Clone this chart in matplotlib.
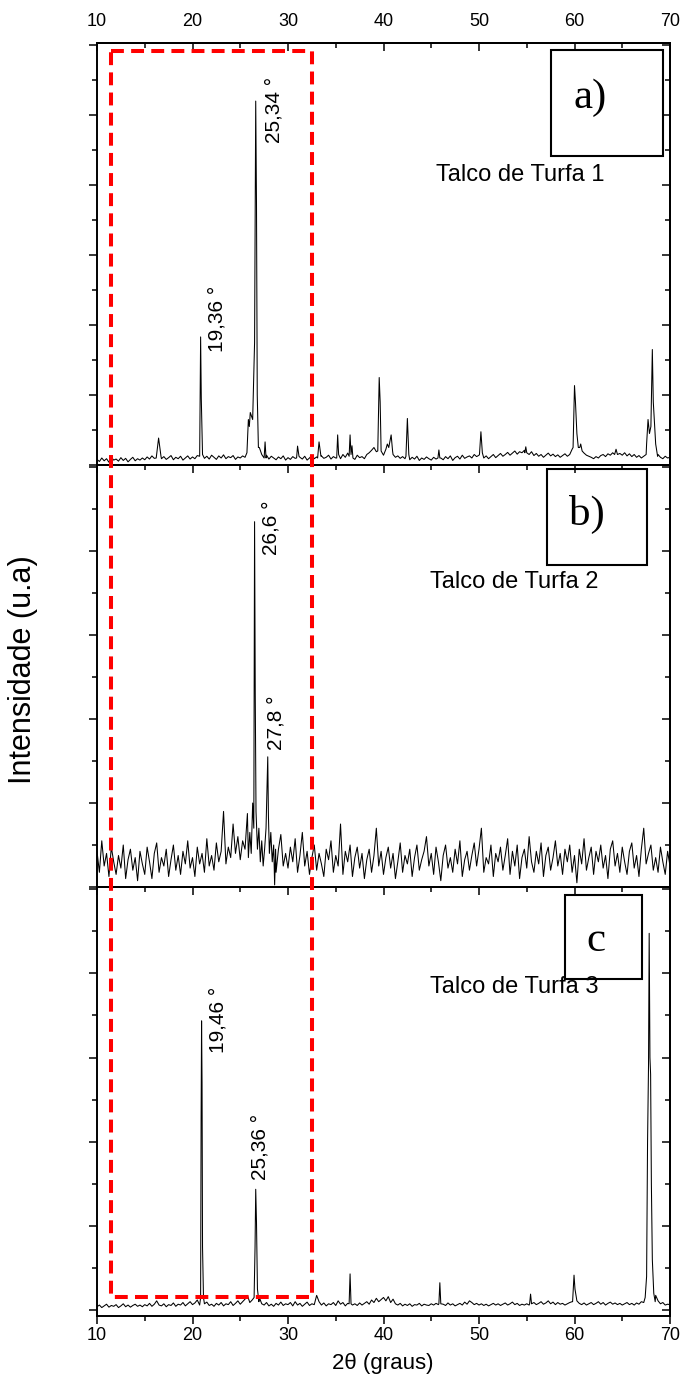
import numpy as np
import matplotlib.pyplot as plt
from matplotlib.lines import Line2D
from matplotlib.patches import Rectangle

plt.rcParams['font.family'] = ['Liberation Sans', 'DejaVu Sans']

# grade de 2theta (passo 0,25 grau) usada para as linhas de base
grade = np.arange(10, 70.001, 0.25)

base_a = [
    0.16, 0.10, 0.20, 0.12, 0.18, 0.08, 0.22, 0.14, 0.17, 0.11, 0.21, 0.13, 0.19, 0.09, 0.16, 0.22, 0.12, 0.18, 0.14, 0.20,
    0.15, 0.23, 0.17, 0.26, 0.19, 0.28, 0.22, 0.18, 0.24, 0.16, 0.21, 0.27, 0.15, 0.22, 0.18, 0.25, 0.14, 0.20, 0.26, 0.17,
    0.23, 0.18, 0.27, 0.21, 0.30, 0.19, 0.25, 0.17, 0.28, 0.22, 0.16, 0.26, 0.20, 0.29, 0.18, 0.24, 0.21, 0.27, 0.16, 0.23,
    0.20, 0.26, 0.22, 0.30, 0.28, 0.35, 0.40, 0.45, 0.50, 0.30, 0.24, 0.28, 0.17, 0.25, 0.20, 0.15, 0.23, 0.18, 0.26, 0.14,
    0.21, 0.16, 0.24, 0.19, 0.30, 0.22, 0.17, 0.25, 0.14, 0.20, 0.28, 0.18, 0.23, 0.15, 0.26, 0.19, 0.22, 0.28, 0.17, 0.24,
    0.20, 0.26, 0.18, 0.30, 0.22, 0.34, 0.19, 0.25, 0.16, 0.28, 0.21, 0.24, 0.18, 0.30, 0.35, 0.42, 0.50, 0.38, 0.26, 0.22,
    0.28, 0.45, 0.52, 0.40, 0.30, 0.22, 0.26, 0.19, 0.24, 0.18, 0.21, 0.15, 0.22, 0.17, 0.25, 0.13, 0.20, 0.16, 0.23, 0.18,
    0.14, 0.22, 0.17, 0.28, 0.20, 0.15, 0.24, 0.18, 0.26, 0.13, 0.21, 0.25, 0.17, 0.28, 0.19, 0.23, 0.26, 0.20, 0.30, 0.24,
    0.28, 0.22, 0.20, 0.26, 0.18, 0.24, 0.30, 0.21, 0.27, 0.33, 0.25, 0.30, 0.36, 0.28, 0.34, 0.40, 0.31, 0.38, 0.35, 0.42,
    0.36, 0.30, 0.38, 0.27, 0.33, 0.25, 0.30, 0.22, 0.28, 0.34, 0.26, 0.31, 0.24, 0.29, 0.22, 0.27, 0.32, 0.25, 0.30, 0.45,
    0.60, 0.55, 0.50, 0.42, 0.34, 0.28, 0.25, 0.22, 0.18, 0.24, 0.20, 0.27, 0.30, 0.24, 0.32, 0.28, 0.35, 0.30, 0.40, 0.33,
    0.28, 0.35, 0.26, 0.32, 0.24, 0.30, 0.22, 0.27, 0.20, 0.25, 0.30, 0.45, 0.80, 0.60, 0.50, 0.30, 0.22, 0.18, 0.25, 0.20,
    0.22]

base_b = [
    0.85, 0.35, 1.10, 0.50, 0.80, 0.25, 0.95, 0.60, 0.30, 0.75, 0.45, 1.00, 0.20, 0.65, 0.90, 0.40, 0.70, 0.15, 0.85, 0.55,
    0.30, 0.95, 0.60, 0.20, 0.80, 1.05, 0.35, 0.70, 0.50, 0.90, 0.25, 0.65, 1.00, 0.40, 0.75, 0.30, 0.85, 0.55, 1.10, 0.45,
    0.70, 0.25, 0.95, 0.55, 0.80, 0.35, 1.15, 0.50, 0.75, 0.40, 1.05, 0.60, 0.85, 1.80, 0.55, 0.95, 0.70, 1.50, 0.80, 1.20,
    0.65, 1.10, 0.90, 1.75, 0.60, 1.00, 0.80, 0.50, 0.90, 0.70, 1.20, 0.40, 0.85, 0.55, 1.05, 0.35, 0.90, 1.25, 0.50, 0.80,
    0.45, 0.95, 0.60, 1.15, 0.35, 0.75, 1.30, 0.50, 0.85, 0.30, 0.70, 1.00, 0.40, 0.80, 0.55, 0.25, 0.90, 0.65, 1.10, 0.35,
    0.75, 0.50, 1.50, 0.30, 0.85, 0.60, 1.00, 0.25, 0.70, 0.95, 0.45, 0.80, 0.20, 0.65, 0.90, 0.35, 0.75, 1.40, 0.50, 0.85,
    0.30, 0.70, 0.95, 0.45, 0.80, 0.20, 0.60, 1.05, 0.35, 0.75, 0.55, 0.90, 0.25, 0.70, 1.00, 0.40, 0.65, 0.85, 1.20, 0.50,
    0.80, 0.30, 0.95, 0.60, 0.15, 0.75, 1.00, 0.45, 0.70, 0.35, 0.90, 0.55, 1.10, 0.25, 0.65, 0.85, 0.40, 0.75, 1.05, 0.50,
    0.90, 1.40, 0.35, 0.70, 0.55, 1.00, 0.25, 0.80, 0.60, 0.95, 0.40, 0.75, 1.15, 0.30, 0.85, 0.50, 1.00, 0.20, 0.70, 0.90,
    0.45, 1.20, 0.60, 0.35, 0.85, 0.55, 1.05, 0.25, 0.75, 0.95, 0.40, 0.70, 1.10, 0.50, 0.80, 0.30, 0.90, 0.60, 1.00, 0.35,
    0.75, 0.10, 0.90, 0.55, 1.15, 0.40, 0.70, 0.95, 0.30, 0.85, 0.60, 1.00, 0.45, 0.75, 0.20, 0.90, 1.10, 0.50, 0.80, 0.35,
    0.95, 0.60, 0.30, 0.85, 1.05, 0.45, 0.75, 0.25, 0.90, 1.40, 0.55, 0.80, 1.00, 0.40, 0.70, 0.35, 0.95, 0.60, 0.30, 0.85,
    0.50]

base_c = [
    0.08, 0.12, 0.06, 0.10, 0.14, 0.07, 0.11, 0.09, 0.13, 0.06, 0.10, 0.15, 0.08, 0.12, 0.07, 0.11, 0.14, 0.09, 0.12, 0.08,
    0.13, 0.10, 0.16, 0.09, 0.14, 0.22, 0.12, 0.10, 0.15, 0.08, 0.13, 0.11, 0.17, 0.09, 0.14, 0.12, 0.18, 0.10, 0.15, 0.20,
    0.13, 0.17, 0.24, 0.12, 0.10, 0.15, 0.19, 0.11, 0.14, 0.09, 0.16, 0.12, 0.18, 0.10, 0.15, 0.13, 0.20, 0.11, 0.16, 0.22,
    0.14, 0.20, 0.26, 0.35, 0.18, 0.24, 0.45, 0.40, 0.30, 0.15, 0.12, 0.18, 0.10, 0.14, 0.09, 0.16, 0.12, 0.19, 0.11, 0.15,
    0.13, 0.18, 0.10, 0.20, 0.12, 0.16, 0.09, 0.14, 0.19, 0.11, 0.15, 0.13, 0.35, 0.20, 0.12, 0.17, 0.10, 0.15, 0.13, 0.18,
    0.11, 0.22, 0.14, 0.18, 0.10, 0.16, 0.13, 0.12, 0.15, 0.11, 0.17, 0.12, 0.16, 0.20, 0.14, 0.24, 0.18, 0.28, 0.20, 0.25,
    0.30, 0.22, 0.32, 0.18, 0.26, 0.15, 0.12, 0.16, 0.10, 0.14, 0.11, 0.15, 0.09, 0.13, 0.12, 0.16, 0.10, 0.14, 0.12, 0.11,
    0.15, 0.12, 0.16, 0.13, 0.10, 0.14, 0.11, 0.17, 0.12, 0.15, 0.10, 0.13, 0.16, 0.12, 0.19, 0.14, 0.22, 0.18, 0.13, 0.16,
    0.12, 0.15, 0.11, 0.14, 0.10, 0.13, 0.16, 0.12, 0.15, 0.11, 0.14, 0.17, 0.12, 0.15, 0.19, 0.13, 0.16, 0.11, 0.14, 0.12,
    0.15, 0.12, 0.14, 0.18, 0.13, 0.16, 0.20, 0.14, 0.17, 0.22, 0.15, 0.19, 0.13, 0.18, 0.14, 0.16, 0.12, 0.15, 0.18, 0.20,
    0.30, 0.22, 0.16, 0.13, 0.17, 0.12, 0.15, 0.18, 0.13, 0.16, 0.20, 0.14, 0.18, 0.12, 0.16, 0.19, 0.14, 0.17, 0.13, 0.16,
    0.12, 0.15, 0.18, 0.13, 0.16, 0.12, 0.17, 0.14, 0.20, 0.18, 0.25, 0.40, 0.60, 0.45, 0.35, 0.22, 0.15, 0.18, 0.12, 0.14,
    0.13]

# picos (2theta, intensidade) de cada amostra
picos_a = [
    [(16.2, 0.20), (16.45, 0.77), (16.7, 0.25)],
    [(20.75, 0.25), (20.85, 3.66), (20.92, 1.90), (21.05, 0.30)],
    [(25.7, 0.35), (25.85, 1.30), (25.95, 1.10), (26.05, 1.50), (26.3, 1.30), (26.5, 3.50),
     (26.62, 10.4), (26.7, 7.50), (26.78, 2.00), (26.9, 0.50)],
    [(27.5, 0.20), (27.6, 0.66), (27.7, 0.20)],
    [(30.9, 0.20), (31.0, 0.54), (31.15, 0.25)],
    [(33.1, 0.20), (33.25, 0.66), (33.45, 0.25)],
    [(35.1, 0.20), (35.2, 0.86), (35.3, 0.30)],
    [(36.4, 0.25), (36.5, 0.86), (36.6, 0.30), (36.7, 0.55), (36.8, 0.20)],
    [(39.4, 0.40), (39.55, 2.50), (39.65, 1.80), (39.75, 0.40)],
    [(40.3, 0.50), (40.4, 0.60), (40.55, 0.50), (40.8, 0.86), (40.95, 0.40)],
    [(42.35, 0.25), (42.5, 1.33), (42.65, 0.30)],
    [(45.7, 0.20), (45.8, 0.43), (45.9, 0.20)],
    [(50.05, 0.30), (50.2, 0.95), (50.35, 0.35)],
    [(54.8, 0.35), (54.9, 0.52), (55.0, 0.35)],
    [(59.85, 0.50), (60.0, 2.27), (60.1, 1.80), (60.25, 0.90), (60.4, 0.50)],
    [(60.55, 0.50), (60.65, 0.60), (60.8, 0.40)],
    [(64.2, 0.30), (64.35, 0.45), (64.5, 0.30)],
    [(67.55, 0.60), (67.7, 1.30), (67.85, 0.90), (68.0, 1.10), (68.15, 3.30), (68.25, 1.80),
     (68.35, 1.30), (68.5, 0.60), (68.7, 0.25)],
]

picos_b = [
    [(25.85, 0.70), (26.0, 1.30), (26.15, 0.80), (26.3, 2.00), (26.42, 1.40), (26.5, 8.70),
     (26.57, 4.60), (26.65, 1.80), (26.8, 0.90), (26.95, 1.40), (27.1, 0.60), (27.25, 1.10),
     (27.4, 0.50), (27.55, 0.90), (27.7, 1.40), (27.8, 2.40), (27.88, 3.10), (27.95, 1.70),
     (28.05, 0.80), (28.2, 1.30), (28.35, 0.60), (28.5, 1.00), (28.6, 0.05), (28.7, 0.90)],
]

picos_c = [
    [(20.85, 0.30), (20.9, 4.50), (20.95, 6.87), (21.0, 5.40), (21.05, 1.50), (21.15, 0.30)],
    [(26.45, 0.30), (26.55, 1.50), (26.62, 2.87), (26.7, 2.10), (26.8, 0.50), (26.95, 0.20)],
    [(36.4, 0.15), (36.5, 0.86), (36.6, 0.15)],
    [(45.8, 0.15), (45.9, 0.65), (46.0, 0.15)],
    [(55.3, 0.15), (55.4, 0.38), (55.5, 0.15)],
    [(59.8, 0.20), (59.95, 0.83), (60.05, 0.50), (60.2, 0.30)],
    [(67.4, 0.30), (67.55, 0.80), (67.65, 4.00), (67.75, 5.80), (67.82, 8.95), (67.9, 6.00),
     (67.97, 5.60), (68.05, 3.00), (68.15, 1.20), (68.3, 0.40), (68.45, 0.20)],
]

# rotulos dos picos: (texto, 2theta, intensidade)
rotulos_a = [('19,36 °', 22.6, 3.23), ('25,34 °', 28.5, 9.2)]
rotulos_b = [('26,6 °', 28.2, 7.9), ('27,8 °', 28.7, 3.26)]
rotulos_c = [('19,46 °', 22.7, 6.1), ('25,36 °', 27.1, 3.09)]

amostras = ['Talco de Turfa 1', 'Talco de Turfa 2', 'Talco de Turfa 3']
letras = ['a)', 'b)', 'c']


def montar(base, picos):
    x = grade.copy()
    y = np.array(base)
    manter = np.ones(len(x), dtype=bool)
    for p in picos:
        xs = [q[0] for q in p]
        manter &= ~((x >= min(xs)) & (x <= max(xs)))
    px = [q[0] for p in picos for q in p]
    py = [q[1] for p in picos for q in p]
    xx = np.concatenate([x[manter], px])
    yy = np.concatenate([y[manter], py])
    ordem = np.argsort(xx)
    return xx[ordem], yy[ordem]


fig = plt.figure(figsize=(6.81, 13.78), dpi=100)
W, H = 681, 1378
esq, larg = 97 / W, 573 / W

posicoes = [(43, 465), (465, 887), (887, 1316)]
limites_y = [(0, 12.06), (0, 10.05), (-0.14, 10.05)]
caixas = [(57.54, 8.83, 11.73, 3.03), (57.09, 7.67, 10.5, 2.28), (59.0, 7.86, 8.03, 2.0)]
pos_letras = [(61.6, 10.5), (61.3, 8.86), (62.25, 8.77)]
pos_amostras = [(54.3, 8.29), (53.7, 7.26), (53.7, 7.67)]
dados = [(base_a, picos_a, rotulos_a), (base_b, picos_b, rotulos_b), (base_c, picos_c, rotulos_c)]

eixos = []
for i in range(3):
    topo, fundo = posicoes[i]
    ax = fig.add_axes([esq, 1 - fundo / H, larg, (fundo - topo) / H])
    ax.patch.set_visible(False)
    base, picos, rotulos = dados[i]
    x, y = montar(base, picos)
    ax.plot(x, y, color='black', lw=0.75)
    ax.set_xlim(10, 70)
    ax.set_ylim(*limites_y[i])

    ax.set_xticks(np.arange(10, 71, 10))
    ax.set_xticks(np.arange(15, 70, 10), minor=True)
    ax.set_yticks(np.arange(0, limites_y[i][1], 2))
    ax.set_yticks(np.arange(1, limites_y[i][1], 2), minor=True)
    ax.tick_params(which='both', direction='out', width=1.1, labelleft=False,
                   labelbottom=(i == 2), labelsize=13, pad=2)
    ax.tick_params(which='major', length=5.8)
    ax.tick_params(which='minor', length=3.6)
    for s in ax.spines.values():
        s.set_linewidth(1.4)

    dir_y = ax.secondary_yaxis('right')
    dir_y.set_yticks(np.arange(0, limites_y[i][1], 2))
    dir_y.set_yticks(np.arange(1, limites_y[i][1], 2), minor=True)
    dir_y.tick_params(which='both', direction='in', width=1.1, labelright=False)
    dir_y.tick_params(which='major', length=5.8)
    dir_y.tick_params(which='minor', length=3.6)
    dir_y.spines['right'].set_linewidth(1.4)

    if i == 0:
        cima = ax.secondary_xaxis('top')
        cima.set_xticks(np.arange(10, 71, 10))
        cima.set_xticks(np.arange(15, 70, 10), minor=True)
        cima.tick_params(which='both', direction='in', width=1.1, labelsize=13, pad=9)
        cima.tick_params(which='major', length=5.8)
        cima.tick_params(which='minor', length=3.6)
        cima.spines['top'].set_linewidth(1.4)

    for txt, tx, ty in rotulos:
        ax.text(tx, ty, txt, rotation=90, ha='center', va='bottom', fontsize=15)

    bx, by, bw, bh = caixas[i]
    ax.add_patch(Rectangle((bx, by), bw, bh, fill=False, lw=1.5, edgecolor='black', clip_on=False))
    ax.text(*pos_letras[i], letras[i], family='Liberation Serif', fontsize=31,
            ha='center', va='center')
    ax.text(*pos_amostras[i], amostras[i], fontsize=17, ha='center', va='center')
    eixos.append(ax)

# retangulo tracejado vermelho destacando a regiao 11,5-32,5 graus
inv = fig.transFigure.inverted()
x0, y1 = inv.transform(eixos[0].transData.transform((11.5, 11.83)))
x1, y0 = inv.transform(eixos[2].transData.transform((32.5, 0.31)))
fig.add_artist(Line2D([x0, x1, x1, x0, x0], [y1, y1, y0, y0, y1], color='#ff0000',
                      lw=2.9, linestyle=(0, (3.2, 1.8)), solid_joinstyle='miter'))

fig.text(23 / W, 1 - 670 / H, 'Intensidade (u.a)', rotation=90, fontsize=22,
         ha='center', va='center')
fig.text(383 / W, 1 - 1364 / H, '2θ (graus)', fontsize=16, ha='center', va='center')

fig.savefig('out.png', dpi=100)
